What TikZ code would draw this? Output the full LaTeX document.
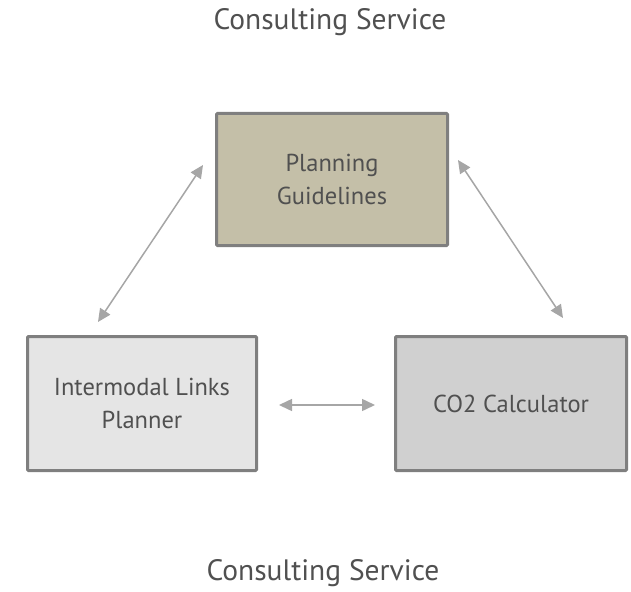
\documentclass[tikz,border=0pt]{standalone}
\usepackage{fontspec}
\setmainfont{PT Sans}
\usetikzlibrary{arrows.meta}
\definecolor{txt}{HTML}{505050}
\definecolor{bord}{HTML}{7F7F7F}
\definecolor{arr}{HTML}{A6A6A6}
\definecolor{tan}{HTML}{C4BFA8}
\definecolor{lgray}{HTML}{E5E5E5}
\definecolor{mgray}{HTML}{D0D0D0}
\tikzset{
  box/.style={draw=bord, line width=3pt, rounded corners=1pt, text=txt, align=center,
    font=\fontsize{24.5}{32.5}\selectfont, inner sep=0pt},
  title/.style={text=txt, font=\fontsize{29.5}{34}\selectfont, inner sep=0pt, anchor=base},
  link/.style={draw=arr, line width=1.5pt, {Triangle[length=13pt,width=12pt]}-{Triangle[length=13pt,width=12pt]}}
}
\begin{document}
\begin{tikzpicture}[x=1pt,y=-1pt]
\useasboundingbox (0,0) rectangle (631,591);
\node[title] (t1) at (330,30) {Consulting Service};
\node[title] (t2) at (323,580) {Consulting Service};
\node[box, fill=tan, minimum width=231pt, minimum height=132pt] (plan) at (332,179.5) {Planning\\Guidelines};
\node[box, fill=lgray, minimum width=229pt, minimum height=134pt] (ilp) at (142,403.5) {Intermodal Links\\Planner};
\node[box, fill=mgray, minimum width=231pt, minimum height=134pt] (co2) at (511,403.5) {CO2 Calculator};
\coordinate (a1) at (98,322);
\coordinate (a2) at (203,165);
\coordinate (b1) at (458,160);
\coordinate (b2) at (563,318);
\coordinate (c1) at (279,405);
\coordinate (c2) at (375,405);
\draw[link] (a1) -- (a2);
\draw[link] (b1) -- (b2);
\draw[link] (c1) -- (c2);
\end{tikzpicture}
\end{document}
